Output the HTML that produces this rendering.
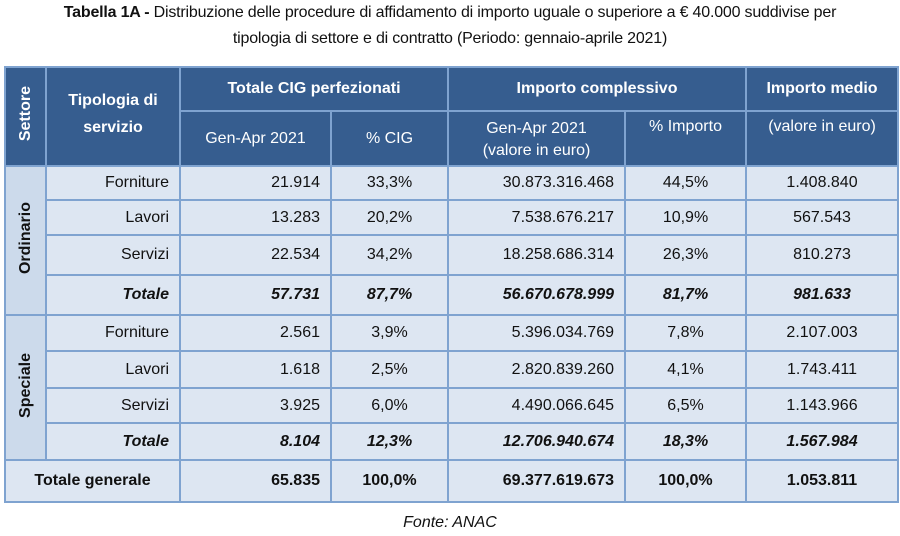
<!DOCTYPE html>
<html><head><meta charset="utf-8">
<style>
body{margin:0;width:900px;height:536px;background:#fff;font-family:"Liberation Sans",sans-serif;color:#111;position:relative;overflow:hidden}
.title{position:absolute;left:0;top:0;width:900px;text-align:center;font-size:16px;line-height:26px;letter-spacing:-0.2px}
table{position:absolute;left:4px;top:66px;width:893px;border-collapse:collapse;table-layout:fixed;font-size:16px}
td,th{border:2px solid #7fa3d0;padding:0 10px;overflow:hidden;white-space:nowrap}
th{background:#365d8f;color:#fff;font-weight:bold}
th.n{font-weight:normal}
td{background:#dde6f2;text-align:right}
td.c{text-align:center}
td.sec{background:#ccdaeb;padding:0;text-align:center;font-weight:bold}
.rot{display:inline-block;writing-mode:vertical-rl;transform:rotate(180deg);white-space:nowrap}
tr.tot td{font-weight:bold;font-style:italic}
tr.gen td{font-weight:bold}
.fonte{position:absolute;left:0;top:514px;width:900px;text-align:center;font-style:italic;font-size:16px}
</style></head><body>
<div class="title"><b>Tabella 1A -</b> Distribuzione delle procedure di affidamento di importo uguale o superiore a € 40.000 suddivise per<br>tipologia di settore e di contratto (Periodo: gennaio-aprile 2021)</div>
<table>
<colgroup><col style="width:41px"><col style="width:134px"><col style="width:151px"><col style="width:117px"><col style="width:177px"><col style="width:121px"><col style="width:152px"></colgroup>
<tr style="height:44px">
<th rowspan="2" style="padding:0"><span class="rot">Settore</span></th>
<th rowspan="2" style="line-height:27px;padding-bottom:6px">Tipologia di<br>servizio</th>
<th colspan="2">Totale CIG perfezionati</th>
<th colspan="2">Importo complessivo</th>
<th>Importo medio</th></tr>
<tr style="height:55px">
<th class="n">Gen-Apr 2021</th>
<th class="n">% CIG</th>
<th class="n" style="vertical-align:top;padding-top:6px;line-height:22px">Gen-Apr 2021<br>(valore in euro)</th>
<th class="n" style="vertical-align:top;padding-top:6px">% Importo</th>
<th class="n" style="vertical-align:top;padding-top:6px">(valore in euro)</th></tr>
<tr style="height:34px"><td rowspan="4" class="sec"><span class="rot">Ordinario</span></td><td>Forniture</td><td>21.914</td><td class="c">33,3%</td><td>30.873.316.468</td><td class="c">44,5%</td><td class="c">1.408.840</td></tr>
<tr style="height:35px"><td>Lavori</td><td>13.283</td><td class="c">20,2%</td><td>7.538.676.217</td><td class="c">10,9%</td><td class="c">567.543</td></tr>
<tr style="height:40px"><td>Servizi</td><td>22.534</td><td class="c">34,2%</td><td>18.258.686.314</td><td class="c">26,3%</td><td class="c">810.273</td></tr>
<tr style="height:40px" class="tot"><td>Totale</td><td>57.731</td><td class="c">87,7%</td><td>56.670.678.999</td><td class="c">81,7%</td><td class="c">981.633</td></tr>
<tr style="height:36px"><td rowspan="4" class="sec"><span class="rot">Speciale</span></td><td>Forniture</td><td>2.561</td><td class="c">3,9%</td><td>5.396.034.769</td><td class="c">7,8%</td><td class="c">2.107.003</td></tr>
<tr style="height:37px"><td>Lavori</td><td>1.618</td><td class="c">2,5%</td><td>2.820.839.260</td><td class="c">4,1%</td><td class="c">1.743.411</td></tr>
<tr style="height:35px"><td>Servizi</td><td>3.925</td><td class="c">6,0%</td><td>4.490.066.645</td><td class="c">6,5%</td><td class="c">1.143.966</td></tr>
<tr style="height:37px" class="tot"><td>Totale</td><td>8.104</td><td class="c">12,3%</td><td>12.706.940.674</td><td class="c">18,3%</td><td class="c">1.567.984</td></tr>
<tr style="height:42px" class="gen"><td colspan="2" class="c">Totale generale</td><td>65.835</td><td class="c">100,0%</td><td>69.377.619.673</td><td class="c">100,0%</td><td class="c">1.053.811</td></tr>
</table>
<div class="fonte">Fonte: ANAC</div>
</body></html>
